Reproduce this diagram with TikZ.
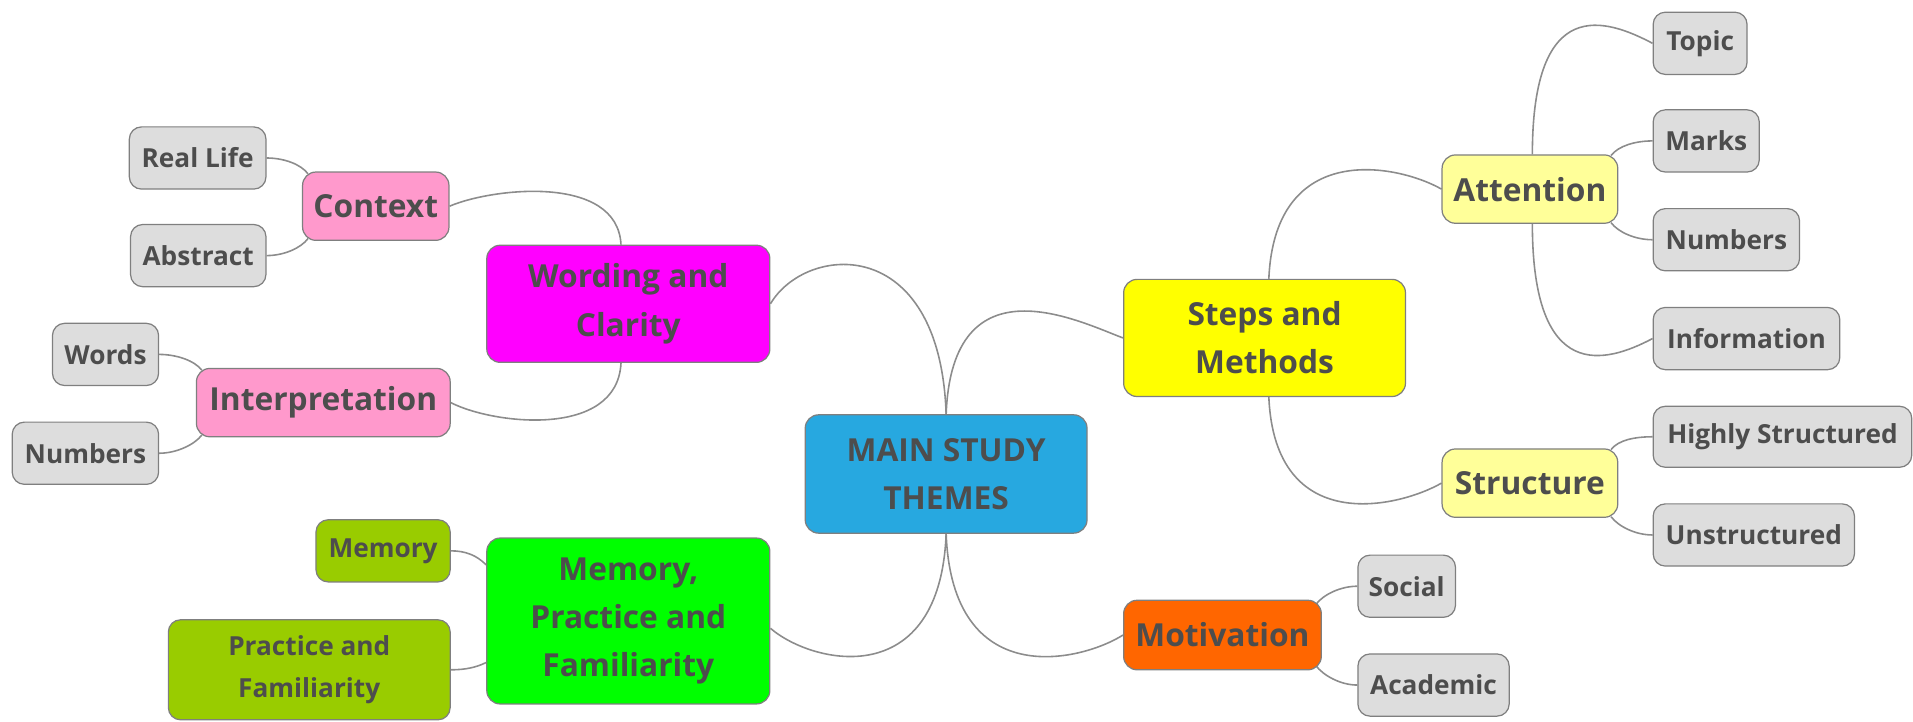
\documentclass[tikz,border=0pt]{standalone}
\usepackage{fontspec}
\setmainfont{Open Sans}
\usetikzlibrary{calc,backgrounds}

\definecolor{txt}{HTML}{4D4D4D}
\definecolor{edge}{HTML}{7F7F7F}
\definecolor{linkgray}{HTML}{8C8C8C}
\definecolor{leafgray}{HTML}{DDDDDD}
\definecolor{rootblue}{HTML}{27A8E0}
\definecolor{magentabox}{HTML}{FF00FF}
\definecolor{greenbox}{HTML}{00FF00}
\definecolor{olivebox}{HTML}{99CC00}
\definecolor{pinkbox}{HTML}{FF99CC}
\definecolor{yellowbox}{HTML}{FFFF00}
\definecolor{paleyellow}{HTML}{FFFF99}
\definecolor{orangebox}{HTML}{FF6600}

\tikzset{
  box/.style={rectangle, rounded corners=11pt, draw=edge, line width=1pt,
    text=txt, align=center, inner sep=0pt,
    font=\bfseries\fontsize{26}{39.5}\selectfont},
  leaf/.style={box, fill=leafgray, rounded corners=10pt,
    font=\bfseries\fontsize{21.5}{35}\selectfont},
  link/.style={draw=linkgray, line width=1.3pt},
}

\begin{document}
\begin{tikzpicture}[x=1pt, y=1pt]
\useasboundingbox (0,0) rectangle (1568,-591);

% root
\node[box, fill=rootblue, minimum width=231, minimum height=97] (root) at (775.5,-388.5) {MAIN STUDY\\THEMES};

% main branches
\node[box, fill=magentabox, minimum width=232, minimum height=96] (word) at (515,-249) {Wording and\\Clarity};
\node[box, fill=greenbox, minimum width=232, minimum height=136] (mem) at (515,-509) {Memory,\\Practice and\\Familiarity};
\node[box, fill=yellowbox, minimum width=231, minimum height=96] (steps) at (1036.5,-277) {Steps and\\Methods};
\node[box, fill=orangebox, minimum width=162, minimum height=57] (mot) at (1002,-520.5) {Motivation};

% second level
\node[box, fill=pinkbox, minimum width=120, minimum height=56] (ctx) at (308,-169) {Context};
\node[box, fill=pinkbox, minimum width=208, minimum height=56] (interp) at (265,-330) {Interpretation};
\node[box, fill=paleyellow, minimum width=144, minimum height=56] (att) at (1254,-155) {Attention};
\node[box, fill=paleyellow, minimum width=144, minimum height=56] (struct) at (1254,-396) {Structure};
\node[leaf, fill=olivebox, minimum width=110, minimum height=51] (memleaf) at (314,-451.5) {Memory};
\node[leaf, fill=olivebox, minimum width=231, minimum height=82] (prac) at (253.5,-549) {Practice and\\Familiarity};

% leaves
\node[leaf, minimum width=112, minimum height=51] (real) at (162,-129.5) {Real Life};
\node[leaf, minimum width=111, minimum height=51] (abs) at (162.5,-209.5) {Abstract};
\node[leaf, minimum width=87, minimum height=51] (words) at (86.5,-290.5) {Words};
\node[leaf, minimum width=120, minimum height=51] (numl) at (70,-371.5) {Numbers};
\node[leaf, minimum width=77, minimum height=51] (topic) at (1393.5,-35.5) {Topic};
\node[leaf, minimum width=87, minimum height=51] (marks) at (1398.5,-115.5) {Marks};
\node[leaf, minimum width=120, minimum height=51] (numr) at (1415,-196.5) {Numbers};
\node[leaf, minimum width=153, minimum height=51] (info) at (1431.5,-277.5) {Information};
\node[leaf, minimum width=212, minimum height=50] (hs) at (1461,-358) {Highly Structured};
\node[leaf, minimum width=165, minimum height=51] (uns) at (1437.5,-438.5) {Unstructured};
\node[leaf, minimum width=80, minimum height=51] (soc) at (1153,-480.5) {Social};
\node[leaf, minimum width=124, minimum height=51] (acad) at (1175,-561.5) {Academic};

\begin{scope}[on background layer]
% root to main branches
\draw[link] (root.north) .. controls ($(root.north)+(-5,149)$) and ($(word.east)+(29,49)$) .. (word.east);
\draw[link] (root.north) .. controls ($(root.north)+(5,129)$) and ($(steps.west)+(-35,13)$) .. (steps.west);
\draw[link] (root.south) .. controls ($(root.south)+(-5,-130)$) and ($(mem.east)+(35,-36)$) .. ($(mem.east)+(0,-6)$);
\draw[link] (root.south) .. controls ($(root.south)+(5,-130)$) and ($(mot.west)+(-35,-22)$) .. (mot.west);

% main branches to second level
\draw[link] ($(word.north)+(-6,0)$) .. controls ($(word.north)+(-9,58)$) and ($(ctx.east)+(35,15)$) .. (ctx.east);
\draw[link] ($(word.south)+(-6,0)$) .. controls ($(word.south)+(-9,-62)$) and ($(interp.east)+(35,-18)$) .. (interp.east);
\draw[link] ($(steps.north)+(3.5,0)$) .. controls ($(steps.north)+(8.5,115)$) and ($(att.west)+(-35,20)$) .. (att.west);
\draw[link] ($(steps.south)+(3.5,0)$) .. controls ($(steps.south)+(8.5,-115)$) and ($(struct.west)+(-35,-20)$) .. (struct.west);
\draw[link] ($(mem.west)+(0,46)$) .. controls ($(mem.west)+(-8,54)$) and ($(memleaf.east)+(12,0)$) .. (memleaf.east);
\draw[link] ($(mem.west)+(0,-34)$) .. controls ($(mem.west)+(-8,-38)$) and ($(prac.east)+(12,0)$) .. (prac.east);

% second level to leaves
\draw[link] ($(ctx.north west)+(5,-2)$) .. controls ($(ctx.north west)+(-1,6)$) and ($(real.east)+(14,0)$) .. (real.east);
\draw[link] ($(ctx.south west)+(5,2)$) .. controls ($(ctx.south west)+(-1,-6)$) and ($(abs.east)+(14,0)$) .. (abs.east);
\draw[link] ($(interp.north west)+(5,-2)$) .. controls ($(interp.north west)+(-1,6)$) and ($(words.east)+(14,0)$) .. (words.east);
\draw[link] ($(interp.south west)+(5,2)$) .. controls ($(interp.south west)+(-1,-6)$) and ($(numl.east)+(14,0)$) .. (numl.east);

\draw[link] ($(att.north)+(2,0)$) .. controls ($(att.north)+(2,132)$) and ($(topic.west)+(-38,20)$) .. (topic.west);
\draw[link] ($(att.north east)+(-6,-1)$) .. controls ($(att.north east)+(0,7)$) and ($(marks.west)+(-14,0)$) .. (marks.west);
\draw[link] ($(att.south east)+(-6,1)$) .. controls ($(att.south east)+(0,-7)$) and ($(numr.west)+(-14,0)$) .. (numr.west);
\draw[link] ($(att.south)+(2,0)$) .. controls ($(att.south)+(2,-132)$) and ($(info.west)+(-38,-20)$) .. (info.west);
\draw[link] ($(struct.north east)+(-6,-1)$) .. controls ($(struct.north east)+(0,7)$) and ($(hs.west)+(-14,0)$) .. (hs.west);
\draw[link] ($(struct.south east)+(-6,1)$) .. controls ($(struct.south east)+(0,-7)$) and ($(uns.west)+(-14,0)$) .. (uns.west);
\draw[link] ($(mot.north east)+(-5,-4)$) .. controls ($(mot.north east)+(1,4)$) and ($(soc.west)+(-14,0)$) .. (soc.west);
\draw[link] ($(mot.south east)+(-5,4)$) .. controls ($(mot.south east)+(1,-4)$) and ($(acad.west)+(-14,0)$) .. (acad.west);
\end{scope}
\end{tikzpicture}
\end{document}
